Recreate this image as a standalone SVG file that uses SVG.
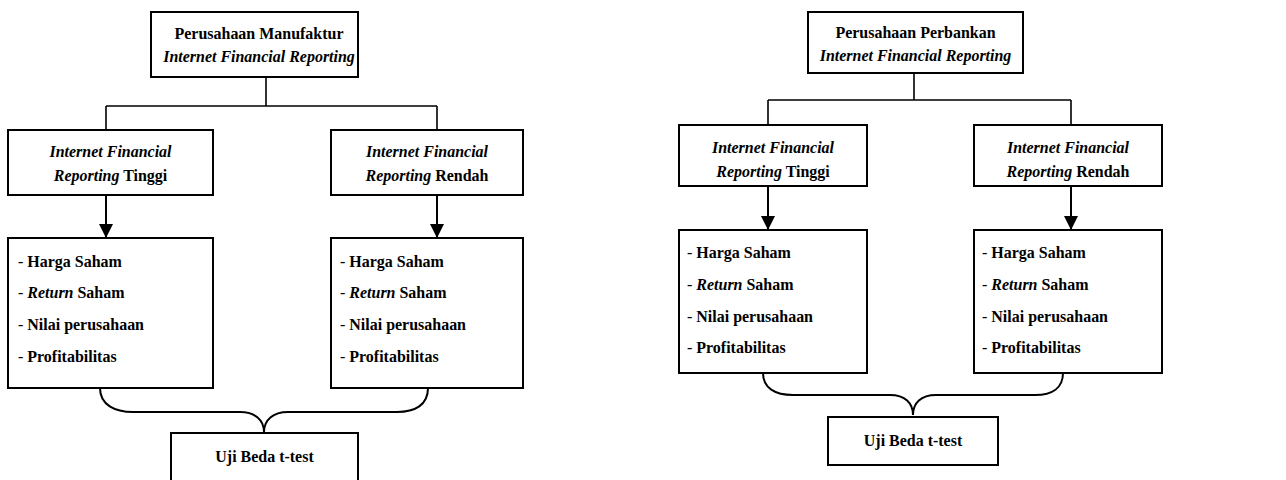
<svg xmlns="http://www.w3.org/2000/svg" width="1286" height="480" viewBox="0 0 1286 480">
<style>
.box{fill:#fff;stroke:#000;stroke-width:2}
.ln{fill:none;stroke:#000;stroke-width:1.6}
.ar{fill:none;stroke:#000;stroke-width:2}
.br{fill:none;stroke:#000;stroke-width:2}
text{font-family:'Liberation Serif','Times New Roman',serif;font-size:17px;font-weight:bold;fill:#000}
.c{text-anchor:middle}
.i{font-style:italic}
.n{font-weight:normal}
</style>
<defs>
<marker id="ah" markerUnits="userSpaceOnUse" markerWidth="14" markerHeight="14" viewBox="0 0 14 14" refX="14" refY="7" orient="auto">
<path d="M0,0 L14,7 L0,14 Z" fill="#000"/>
</marker>
</defs>
<g id="connectors">
<path class="ln" d="M266,77 V106 M106,106 H437 M106,106 V130 M437,106 V130"/>
<path class="ar" d="M106,196 V238" marker-end="url(#ah)"/>
<path class="ar" d="M437,196 V238" marker-end="url(#ah)"/>
<path class="br" d="M100,388 C100,405 115,412 133,412 L240,412 C255,412 264,420 264,432 C264,420 273,412 288,412 L397,412 C415,412 428,405 428,388"/>
<path class="ln" d="M914,73 V100 M768,100 H1071 M768,100 V125 M1071,100 V125"/>
<path class="ar" d="M768,186 V230" marker-end="url(#ah)"/>
<path class="ar" d="M1071,186 V230" marker-end="url(#ah)"/>
<path class="br" d="M763,373 C763,388 775,395 793,395 L890,395 C905,395 913,403 913,415 C913,403 921,395 936,395 L1035,395 C1052,395 1063,388 1063,373"/>
</g>
<g id="m-top">
<rect class="box" x="151" y="12" width="207" height="65"/>
<text class="c" transform="translate(259,39) scale(0.94,1)">Perusahaan Manufaktur</text>
<text class="c i" transform="translate(259,62) scale(0.94,1)">Internet Financial Reporting</text>
</g>
<g id="m-tinggi">
<rect class="box" x="8" y="130" width="205" height="65"/>
<text class="c i" transform="translate(110.5,157) scale(0.94,1)">Internet Financial</text>
<text class="c" transform="translate(110.5,181) scale(0.94,1)"><tspan class="i">Reporting</tspan> Tinggi</text>
</g>
<g id="m-rendah">
<rect class="box" x="331" y="130" width="192" height="65"/>
<text class="c i" transform="translate(427,157) scale(0.94,1)">Internet Financial</text>
<text class="c" transform="translate(427,181) scale(0.94,1)"><tspan class="i">Reporting</tspan> Rendah</text>
</g>
<g id="m-list-tinggi">
<rect class="box" x="8" y="238" width="205" height="150"/>
<text transform="translate(18,267) scale(0.94,1)"><tspan class="n">- </tspan>Harga Saham</text>
<text transform="translate(18,298) scale(0.94,1)"><tspan class="n">- </tspan><tspan class="i">Return</tspan> Saham</text>
<text transform="translate(18,330) scale(0.94,1)"><tspan class="n">- </tspan>Nilai perusahaan</text>
<text transform="translate(18,362) scale(0.94,1)"><tspan class="n">- </tspan>Profitabilitas</text>
</g>
<g id="m-list-rendah">
<rect class="box" x="331" y="238" width="192" height="150"/>
<text transform="translate(340,267) scale(0.94,1)"><tspan class="n">- </tspan>Harga Saham</text>
<text transform="translate(340,298) scale(0.94,1)"><tspan class="n">- </tspan><tspan class="i">Return</tspan> Saham</text>
<text transform="translate(340,330) scale(0.94,1)"><tspan class="n">- </tspan>Nilai perusahaan</text>
<text transform="translate(340,362) scale(0.94,1)"><tspan class="n">- </tspan>Profitabilitas</text>
</g>
<g id="m-ttest">
<rect class="box" x="171" y="433" width="187" height="60"/>
<text class="c" transform="translate(264.5,462) scale(0.94,1)">Uji Beda t-test</text>
</g>
<g id="b-top">
<rect class="box" x="808" y="12" width="215" height="61"/>
<text class="c" transform="translate(915.5,38) scale(0.94,1)">Perusahaan Perbankan</text>
<text class="c i" transform="translate(915.5,61) scale(0.94,1)">Internet Financial Reporting</text>
</g>
<g id="b-tinggi">
<rect class="box" x="679" y="125" width="188" height="61"/>
<text class="c i" transform="translate(773,153) scale(0.94,1)">Internet Financial</text>
<text class="c" transform="translate(773,177) scale(0.94,1)"><tspan class="i">Reporting</tspan> Tinggi</text>
</g>
<g id="b-rendah">
<rect class="box" x="974" y="125" width="188" height="61"/>
<text class="c i" transform="translate(1068,153) scale(0.94,1)">Internet Financial</text>
<text class="c" transform="translate(1068,177) scale(0.94,1)"><tspan class="i">Reporting</tspan> Rendah</text>
</g>
<g id="b-list-tinggi">
<rect class="box" x="679" y="230" width="188" height="143"/>
<text transform="translate(687,258) scale(0.94,1)"><tspan class="n">- </tspan>Harga Saham</text>
<text transform="translate(687,290) scale(0.94,1)"><tspan class="n">- </tspan><tspan class="i">Return</tspan> Saham</text>
<text transform="translate(687,322) scale(0.94,1)"><tspan class="n">- </tspan>Nilai perusahaan</text>
<text transform="translate(687,353) scale(0.94,1)"><tspan class="n">- </tspan>Profitabilitas</text>
</g>
<g id="b-list-rendah">
<rect class="box" x="974" y="230" width="188" height="143"/>
<text transform="translate(982,258) scale(0.94,1)"><tspan class="n">- </tspan>Harga Saham</text>
<text transform="translate(982,290) scale(0.94,1)"><tspan class="n">- </tspan><tspan class="i">Return</tspan> Saham</text>
<text transform="translate(982,322) scale(0.94,1)"><tspan class="n">- </tspan>Nilai perusahaan</text>
<text transform="translate(982,353) scale(0.94,1)"><tspan class="n">- </tspan>Profitabilitas</text>
</g>
<g id="b-ttest">
<rect class="box" x="828" y="417" width="170" height="48"/>
<text class="c" transform="translate(913,446) scale(0.94,1)">Uji Beda t-test</text>
</g>
</svg>
